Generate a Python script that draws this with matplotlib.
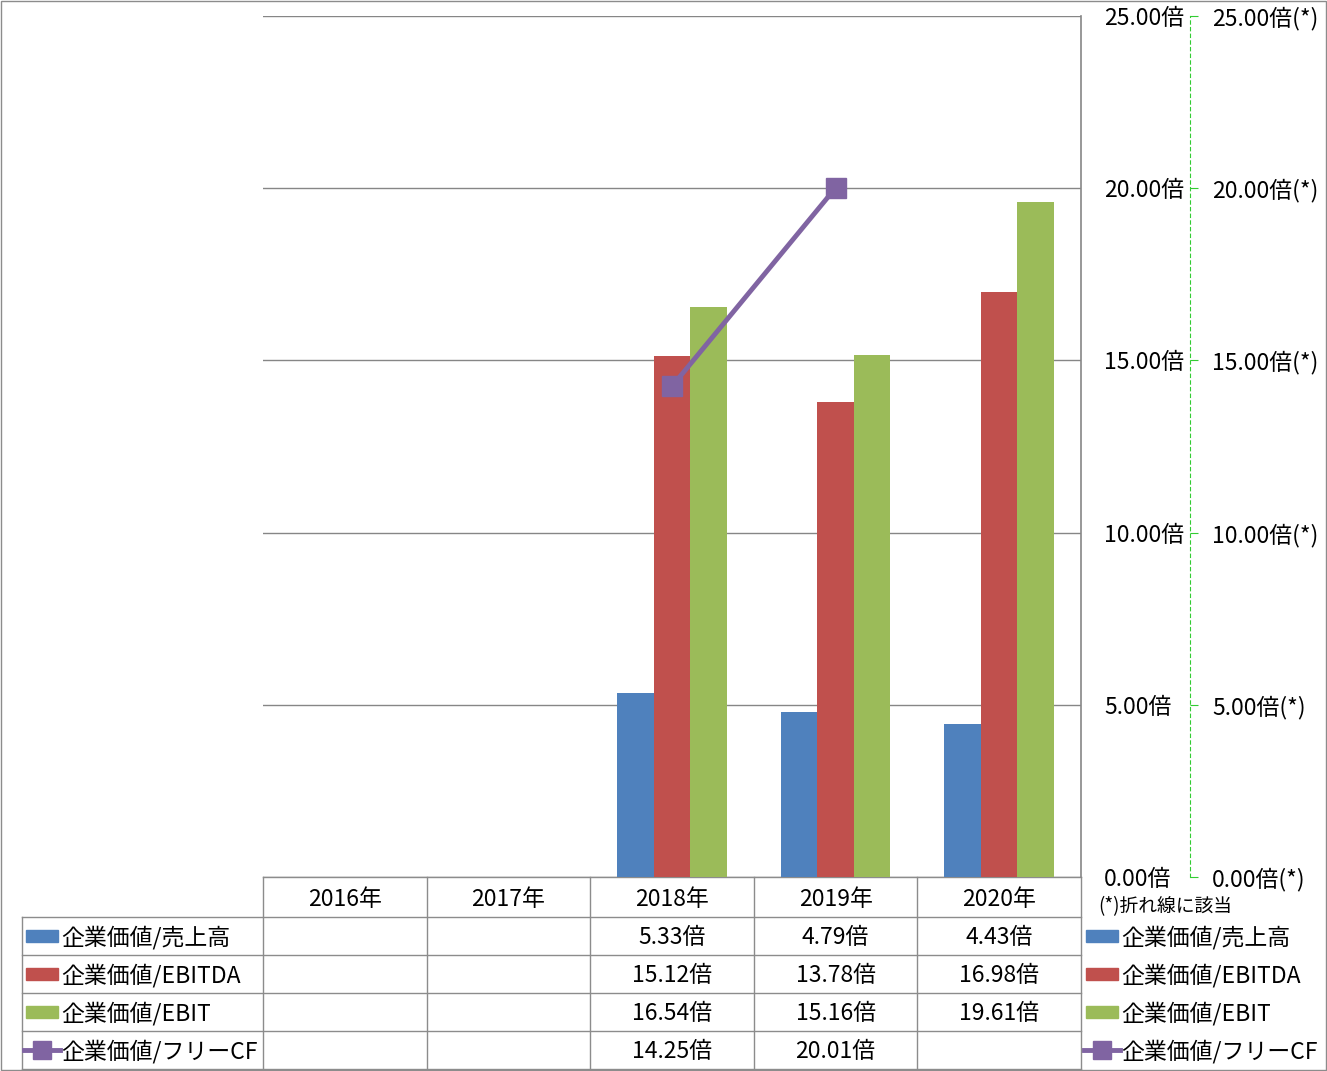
import numpy as np
import matplotlib
matplotlib.use('Agg')
import matplotlib.pyplot as plt
from matplotlib.patches import Rectangle
from matplotlib.lines import Line2D

plt.rcParams['font.family'] = ['Noto Sans CJK JP', 'DejaVu Sans']

# Data
years = ['2016年', '2017年', '2018年', '2019年', '2020年']
series_names = ['企業価値/売上高', '企業価値/EBITDA', '企業価値/EBIT', '企業価値/フリーCF']
ev_sales = [np.nan, np.nan, 5.33, 4.79, 4.43]
ev_ebitda = [np.nan, np.nan, 15.12, 13.78, 16.98]
ev_ebit = [np.nan, np.nan, 16.54, 15.16, 19.61]
ev_fcf = [np.nan, np.nan, 14.25, 20.01, np.nan]
yticks = [0, 5, 10, 15, 20, 25]

colors = ['#4F81BD', '#C0504D', '#9BBB59', '#8064A2']
grid_c = '#868686'
W, H = 1327, 1071
FS = 16.5
DY = 2  # vertical nudge for CJK text centring


def fx(px):
    return px / W


def fy(py):
    return 1 - py / H


fig = plt.figure(figsize=(W / 100, H / 100), dpi=100)

# overlay in pixel coordinates for table and legends
ov = fig.add_axes([0, 0, 1, 1], zorder=0)
ov.set_xlim(0, W)
ov.set_ylim(H, 0)
ov.axis('off')

left, right, top, bottom = 263, 1081, 16, 877
ax = fig.add_axes([fx(left), fy(bottom), fx(right - left), (bottom - top) / H], zorder=2)
ax.patch.set_alpha(0)
x = np.arange(len(years)) + 0.5
bw = 0.223
bar_series = [ev_sales, ev_ebitda, ev_ebit]
for i, vals in enumerate(bar_series):
    ax.bar(x + (i - 1) * bw, vals, width=bw, color=colors[i], zorder=3)
ax.set_xlim(0, len(years))
ax.set_ylim(0, 25)
ax.set_xticks([])
for y in yticks:
    ax.axhline(y, color=grid_c, lw=1, zorder=1)
for s in ['left', 'top', 'bottom']:
    ax.spines[s].set_visible(False)
ax.spines['right'].set_color(grid_c)
ax.spines['right'].set_linewidth(1.2)

ax2 = ax.twinx()
ax2.set_ylim(0, 25)
ax2.spines['right'].set_position(('axes', (1190 - left) / (right - left)))
ax2.spines['right'].set_linestyle((0, (3, 3)))
ax2.spines['right'].set_color('#33CC33')
ax2.spines['right'].set_linewidth(0.8)
for s in ['left', 'top', 'bottom']:
    ax2.spines[s].set_visible(False)
ax2.plot(x, ev_fcf, color=colors[3], lw=3.5, marker='s', markersize=14,
         markeredgecolor=colors[3], zorder=5)
ax2.set_yticks(yticks)
ax2.set_yticklabels(['{:.2f}倍(*)'.format(v) for v in yticks], fontsize=FS)
ax2.tick_params(axis='y', colors='#33CC33', labelcolor='black', length=6, width=0.8, pad=10)

ax.yaxis.tick_right()
ax.set_yticks(yticks)
ax.set_yticklabels(['{:.2f}倍'.format(v) for v in yticks], fontsize=FS)
ax.tick_params(axis='y', length=0, pad=16.5)

# Table
col_edges = [left + (right - left) * i / len(years) for i in range(len(years) + 1)]
row_edges = [877, 917, 955, 993, 1031, 1069]
lc = '#8C8C8C'
for xe in col_edges:
    ov.plot([xe, xe], [row_edges[0], row_edges[-1]], color=lc, lw=1)
ov.plot([22, 22], [row_edges[1], row_edges[-1]], color=lc, lw=1)
ov.plot([left, right], [row_edges[0]] * 2, color=lc, lw=1)
for ye in row_edges[1:]:
    ov.plot([22, right], [ye, ye], color=lc, lw=1)
ov.add_patch(Rectangle((0.5, 0.5), W - 1.5, H - 1.5, fill=False, edgecolor=lc, lw=1))

for j, yr in enumerate(years):
    cx = (col_edges[j] + col_edges[j + 1]) / 2
    ov.text(cx, (row_edges[0] + row_edges[1]) / 2 + DY, yr, ha='center', va='center', fontsize=FS)
all_series = [ev_sales, ev_ebitda, ev_ebit, ev_fcf]
for i, vals in enumerate(all_series):
    cy = (row_edges[i + 1] + row_edges[i + 2]) / 2
    for j, v in enumerate(vals):
        if not np.isnan(v):
            cx = (col_edges[j] + col_edges[j + 1]) / 2
            ov.text(cx, cy + DY, '{:.2f}倍'.format(v), ha='center', va='center', fontsize=FS)


def legend_key(x0, cy, i):
    if i < 3:
        ov.add_patch(Rectangle((x0, cy - 6), 32, 12, color=colors[i]))
    else:
        ov.add_line(Line2D([x0 - 2, x0 + 34], [cy, cy], color=colors[3], lw=3.5))
        ov.plot([x0 + 16], [cy], marker='s', markersize=13, color=colors[3])


for i, name in enumerate(series_names):
    cy = (row_edges[i + 1] + row_edges[i + 2]) / 2
    legend_key(26, cy, i)
    ov.text(61, cy + DY, name, ha='left', va='center', fontsize=FS)
    legend_key(1086, cy, i)
    ov.text(1121, cy + DY, name, ha='left', va='center', fontsize=FS)

ov.text(1098, 905 + DY, '(*)折れ線に該当', ha='left', va='center', fontsize=13.5)

fig.savefig('out.png', dpi=100)
